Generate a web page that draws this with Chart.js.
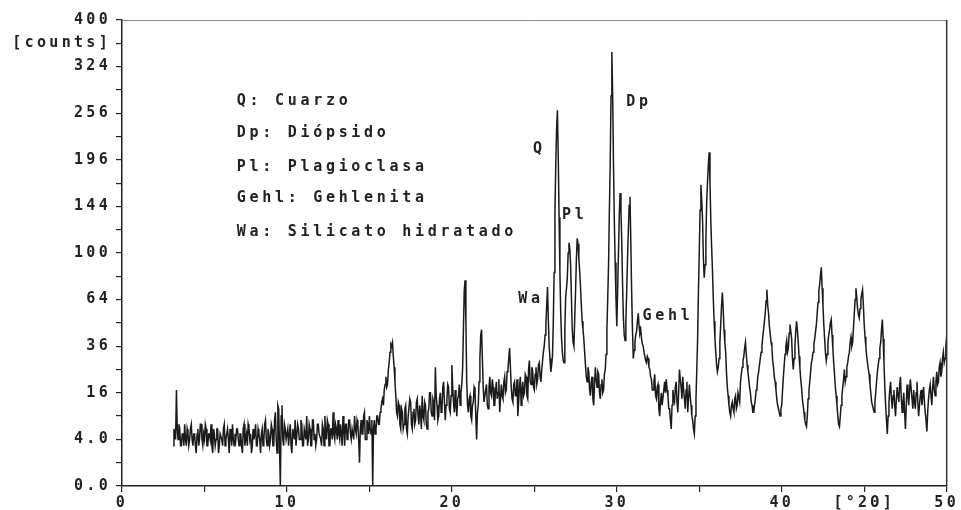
<!DOCTYPE html>
<html>
<head>
<meta charset="utf-8">
<script src="https://cdn.jsdelivr.net/npm/chart.js@4.4.1/dist/chart.umd.min.js"></script>
<style>
  html, body { margin: 0; padding: 0; background: #fff; }
</style>
</head>
<body>
<canvas id="xrdChart" width="961" height="510"></canvas>
<script>
// 2θ grid of the scan
const startAngle = 3.1;
const stepAngle = 0.05;

// counts, one row per degree (20 steps)
const counts = [
  3, 6, 5, 4, 17, 6, 4, 7, 6, 3, 3, 5, 5, 3, 7, 4, 3, 6,                   // 3.10 - 3.95
  5, 3, 4, 6, 7, 4, 3, 5, 5, 3, 2, 5, 6, 3, 4, 7, 7, 4, 3, 5,              // 4
  4, 7, 6, 3, 3, 5, 5, 4, 7, 3, 2, 6, 5, 3, 4, 6, 6, 2, 3, 5,              // 5
  5, 4, 3, 6, 7, 3, 4, 5, 6, 4, 2, 6, 5, 3, 7, 4, 3, 5, 4, 6,              // 6
  6, 4, 3, 5, 5, 3, 2, 6, 7, 3, 4, 5, 3, 7, 6, 4, 5, 2, 3, 6,              // 7
  4, 5, 7, 3, 3, 6, 5, 4, 2, 5, 6, 3, 4, 7, 8, 4, 3, 6, 5, 3,              // 8
  4, 7, 6, 3, 3, 8, 10, 4, 2, 12, 11, 3, 0, 9, 12, 4, 3, 7, 6, 4,          // 9
  4, 6, 3, 5, 7, 3, 2, 6, 5, 4, 8, 3, 3, 7, 6, 4, 4, 8, 7, 3,              // 10
  3, 6, 5, 4, 9, 3, 4, 7, 6, 3, 3, 8, 8, 4, 5, 3, 4, 7, 7, 5,              // 11
  5, 4, 3, 7, 6, 3, 9, 5, 4, 8, 7, 3, 3, 6, 6, 4, 10, 5, 4, 7,             // 12
  6, 4, 8, 5, 4, 7, 5, 3, 9, 6, 3, 7, 7, 4, 5, 8, 8, 5, 4, 6,              // 13
  6, 4, 9, 6, 5, 8, 7, 4, 1, 6, 8, 5, 5, 9, 10, 4, 4, 8, 7, 5,             // 14
  9, 6, 5, 8, 0, 6, 8, 5, 6, 9, 9, 7, 7, 10, 11, 13, 14, 12, 17, 19,       // 15
  22, 18, 19, 25, 28, 33, 37, 36, 38, 31, 26, 20, 15, 10, 9, 13, 12, 7, 6, 11, // 16
  10, 6, 7, 11, 12, 6, 5, 9, 9, 14, 13, 7, 6, 10, 11, 7, 8, 13, 14, 9,     // 17
  7, 12, 10, 6, 15, 9, 8, 13, 12, 7, 6, 10, 11, 16, 16, 10, 9, 14, 13, 8,  // 18
  26, 15, 12, 8, 9, 14, 16, 10, 11, 18, 20, 13, 8, 12, 14, 19, 18, 11, 10, 15, // 19
  27, 18, 13, 10, 17, 12, 9, 14, 15, 19, 12, 16, 19, 25, 45, 70, 78, 50, 20, 12, // 20
  10, 14, 15, 9, 8, 12, 13, 18, 17, 9, 4, 10, 12, 20, 30, 42, 45, 30, 18, 13, // 21
  13, 17, 19, 12, 11, 18, 22, 16, 15, 21, 18, 12, 12, 17, 20, 14, 16, 21, 10, 14, // 22
  19, 15, 14, 20, 22, 16, 17, 24, 25, 30, 35, 26, 18, 14, 13, 19, 20, 15, 15, 21, // 23
  9, 13, 18, 22, 12, 17, 20, 15, 16, 23, 22, 15, 14, 25, 29, 20, 19, 26, 24, 18, // 24
  17, 23, 26, 19, 21, 27, 28, 22, 20, 25, 29, 33, 36, 42, 48, 60, 73, 50, 36, 30, // 25
  24, 27, 31, 50, 84, 140, 190, 235, 260, 200, 133, 85, 55, 40, 33, 29, 28, 45, 66, 72, // 26
  80, 100, 109, 104, 90, 65, 45, 38, 36, 52, 70, 95, 113, 108, 95, 85, 73, 60, 50, 45, // 27
  40, 33, 27, 22, 20, 26, 24, 17, 15, 20, 22, 14, 12, 19, 26, 21, 18, 24, 23, 16, // 28
  14, 19, 21, 16, 17, 23, 25, 32, 45, 65, 90, 140, 192, 280, 347, 280, 190, 130, 92, 65, // 29
  47, 70, 100, 135, 158, 140, 110, 75, 52, 42, 39, 50, 70, 95, 120, 145, 154, 110, 70, 45, // 30
  30, 34, 38, 42, 44, 50, 55, 47, 43, 45, 40, 37, 36, 33, 33, 29, 28, 31, 30, 26, // 31
  25, 22, 21, 17, 17, 20, 23, 15, 14, 18, 19, 11, 9, 13, 16, 12, 12, 17, 20, 16, // 32
  21, 17, 15, 11, 11, 8, 6, 12, 17, 14, 13, 18, 20, 13, 10, 16, 25, 21, 18, 14, // 33
  22, 17, 14, 11, 17, 20, 10, 14, 19, 15, 12, 9, 8, 6, 5, 9, 14, 25, 40, 70, // 34
  100, 140, 167, 150, 130, 95, 80, 90, 110, 150, 170, 190, 205, 170, 130, 105, 86, 65, 50, 40, // 35
  33, 27, 24, 26, 30, 38, 48, 60, 69, 58, 45, 38, 33, 24, 18, 15, 12, 10, 9, 12, // 36
  13, 11, 10, 14, 15, 11, 12, 16, 16, 13, 20, 23, 26, 29, 31, 35, 38, 32, 27, 24, // 37
  21, 18, 16, 13, 12, 10, 10, 12, 14, 17, 18, 22, 24, 27, 30, 33, 36, 41, 45, 50, // 38
  55, 63, 71, 60, 55, 47, 43, 38, 36, 29, 26, 22, 20, 17, 14, 12, 11, 10, 9, 11, // 39
  12, 17, 22, 27, 32, 36, 39, 33, 35, 43, 48, 44, 40, 30, 25, 30, 36, 44, 50, 45, // 40
  38, 31, 26, 21, 18, 14, 12, 10, 8, 7, 6.5, 9, 14, 17, 20, 24, 28, 30, 33, 37, // 41
  40, 44, 48, 55, 62, 70, 75, 82, 88, 72, 60, 48, 40, 33, 29, 32, 38, 42, 45, 49, // 42
  51, 42, 35, 28, 23, 18, 15, 12, 9, 7, 6.5, 9, 12, 15, 18, 21, 25, 20, 22, 26, // 43
  28, 31, 33, 38, 41, 36, 38, 46, 55, 64, 72, 65, 58, 54, 52, 58, 64, 68, 71, 60, // 44
  48, 41, 36, 31, 28, 25, 23, 19, 16, 13, 12, 11, 10, 13, 16, 20, 24, 27, 30, 35, // 45
  38, 45, 51, 40, 28, 18, 12, 8, 5, 9, 13, 17, 20, 14, 11, 15, 17, 12, 9, 14, // 46
  18, 15, 13, 19, 22, 14, 10, 13, 16, 10, 6, 12, 19, 15, 12, 17, 21, 17, 14, 11, // 47
  17, 13, 11, 16, 20, 13, 9, 12, 15, 17, 12, 15, 18, 13, 10, 8, 5.5, 10, 14, 17, // 48
  19, 15, 12, 18, 22, 17, 15, 20, 24, 19, 20, 26, 28, 22, 24, 30, 33, 28, 30, 36, // 49
  41                                                                       // 50
];

// y axis is square-root scaled: ticks at these counts
const yTickCounts = [0, 4, 16, 36, 64, 100, 144, 196, 256, 324, 400];
const yTickText = ['0.0', '4.0', '16', '36', '64', '100', '144', '196', '256', '324', '400'];
const yUnitCount = 361;
const yUnitText = '[counts]';

const xTickValues = [0, 10, 20, 30, 40, 50];
const xUnitValue = 45;
const xUnitText = '[°2Θ]';

// phase labels next to peaks (2θ, counts)
const peakLabels = [
  { text: 'Q', x: 25.3, c: 209 },
  { text: 'Pl', x: 27.45, c: 135 },
  { text: 'Dp', x: 31.35, c: 272 },
  { text: 'Wa', x: 24.8, c: 64 },
  { text: 'Gehl', x: 33.1, c: 53 }
];

const legendLines = ['Q: Cuarzo', 'Dp: Diópsido', 'Pl: Plagioclasa', 'Gehl: Gehlenita', 'Wa: Silicato hidratado'];
const legendCounts = [273, 230, 187, 153, 119];
const legendAngle = 6.96;

const points = counts.map((c, i) => ({ x: startAngle + i * stepAngle, y: Math.sqrt(c) }));

const monoFont = { family: 'DejaVu Sans Mono', size: 15, weight: 'bold' };
const ink = '#222';

const xrdText = {
  id: 'xrdText',
  beforeUpdate(chart) { chart.ctx.letterSpacing = '3.3px'; },
  beforeDraw(chart) { chart.ctx.letterSpacing = '3.3px'; },
  afterDraw(chart) {
    const { ctx, chartArea: a, scales: { x, y } } = chart;
    ctx.save();
    ctx.strokeStyle = '#8a8a8a';
    ctx.lineWidth = 1;
    ctx.beginPath();
    ctx.moveTo(a.left, a.top + 0.5);
    ctx.lineTo(a.right, a.top + 0.5);
    ctx.stroke();
    ctx.strokeStyle = '#333';
    ctx.lineWidth = 1.5;
    ctx.beginPath();
    ctx.moveTo(a.right, a.top);
    ctx.lineTo(a.right, a.bottom);
    ctx.stroke();

    ctx.font = 'bold 15px "DejaVu Sans Mono"';
    ctx.letterSpacing = '3.7px';
    ctx.fillStyle = ink;
    ctx.textBaseline = 'middle';
    ctx.textAlign = 'center';
    peakLabels.forEach(l => {
      ctx.fillText(l.text, x.getPixelForValue(l.x), y.getPixelForValue(Math.sqrt(l.c)));
    });
    ctx.textAlign = 'left';
    legendLines.forEach((t, i) => {
      ctx.fillText(t, x.getPixelForValue(legendAngle), y.getPixelForValue(Math.sqrt(legendCounts[i])));
    });
    ctx.restore();
  }
};

new Chart(document.getElementById('xrdChart').getContext('2d'), {
  type: 'line',
  data: {
    datasets: [{
      data: points,
      borderColor: '#1a1a1a',
      borderWidth: 1.5,
      pointRadius: 0,
      tension: 0,
      fill: false
    }]
  },
  options: {
    responsive: false,
    animation: false,
    layout: { padding: { top: 20, right: 13, left: 0, bottom: 0 } },
    plugins: {
      legend: { display: false },
      tooltip: { enabled: false }
    },
    scales: {
      x: {
        type: 'linear',
        min: 0,
        max: 50,
        afterFit: s => { s.height = 24; },
        border: { color: ink, width: 1.5 },
        grid: { drawOnChartArea: false, tickLength: 6, color: ink, lineWidth: 1.2 },
        ticks: {
          stepSize: 5,
          autoSkip: false,
          maxRotation: 0,
          padding: 2,
          color: ink,
          font: monoFont,
          callback: v => {
            if (v === xUnitValue) return xUnitText;
            return xTickValues.includes(v) ? String(v) : '';
          }
        }
      },
      y: {
        type: 'linear',
        min: 0,
        max: 20,
        afterFit: s => { s.width = 122; },
        border: { color: ink, width: 1.5 },
        grid: { drawOnChartArea: false, tickLength: 6, color: ink, lineWidth: 1.2 },
        ticks: {
          stepSize: 1,
          autoSkip: false,
          padding: 5,
          color: ink,
          font: monoFont,
          callback: v => {
            const c = Math.round(v * v);
            if (c === yUnitCount) return yUnitText;
            const i = yTickCounts.indexOf(c);
            return i >= 0 ? yTickText[i] : '';
          }
        }
      }
    }
  },
  plugins: [xrdText]
});
</script>
</body>
</html>
